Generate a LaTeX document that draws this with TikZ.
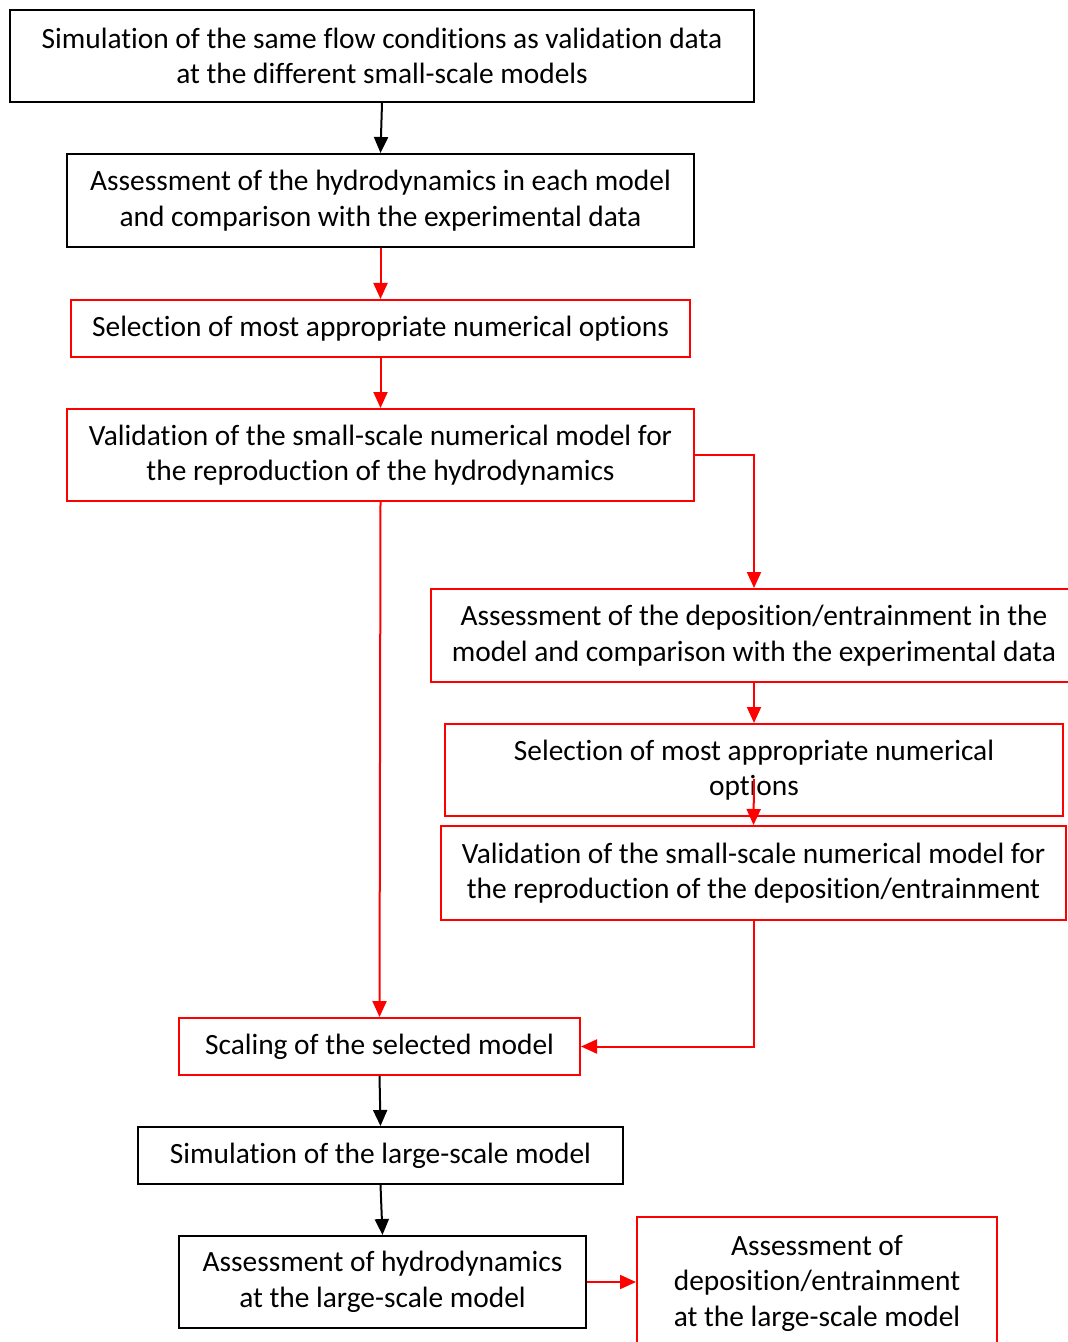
\documentclass[tikz,border=0pt]{standalone}
\usepackage{fontspec}
\setmainfont{Carlito}[Ligatures=NoCommon]
\usetikzlibrary{arrows.meta}
\begin{document}
\begin{tikzpicture}[x=0.5pt,y=-0.5pt,
 box/.style={draw, line width=1pt, inner sep=0pt, align=center, font=\fontsize{14.7}{17.75}\selectfont, anchor=center},
 bb/.style={box, draw=black},
 rb/.style={box, draw=red},
 arr/.style={line width=1pt, -{Triangle[length=8pt,width=7pt]}},
 barr/.style={arr, color=black},
 rarr/.style={arr, color=red}]
\useasboundingbox (0,0) rectangle (1068,1342);
\node[bb, minimum width=372pt, minimum height=46pt] (b1) at (382,56) {Simulation of the same flow conditions as validation data\\at the different small-scale models};
\node[bb, minimum width=313.5pt, minimum height=46.5pt] (b2) at (380.5,200.5) {Assessment of the hydrodynamics in each model\\and comparison with the experimental data};
\node[rb, minimum width=309.5pt, minimum height=28.5pt] (b3) at (380.5,328.5) {Selection of most appropriate numerical options};
\node[rb, minimum width=313.5pt, minimum height=46pt] (b4) at (380.5,455) {Validation of the small-scale numerical model for\\the reproduction of the hydrodynamics};
\node[rb, minimum width=323pt, minimum height=46.5pt] (b5) at (754,635.5) {Assessment of the deposition/entrainment in the\\model and comparison with the experimental data};
\node[rb, minimum width=309pt, minimum height=46pt] (b6) at (754,770) {Selection of most appropriate numerical\\options};
\node[rb, minimum width=312.5pt, minimum height=47pt] (b7) at (753.5,873) {Validation of the small-scale numerical model for\\the reproduction of the deposition/entrainment};
\node[rb, minimum width=200.5pt, minimum height=28.5pt] (b8) at (379.5,1046.5) {Scaling of the selected model};
\node[bb, minimum width=242.5pt, minimum height=28.5pt] (b9) at (380.5,1155.5) {Simulation of the large-scale model};
\node[bb, minimum width=203.5pt, minimum height=46pt] (b10) at (382.5,1282) {Assessment of hydrodynamics\\at the large-scale model};
\node[rb, minimum width=180pt, minimum height=66pt] (b11) at (817,1283) {Assessment of\\deposition/entrainment\\at the large-scale model};
\coordinate (c67) at (754,779);
\draw[barr] (b1.south) -- (b2.north);
\draw[rarr] (b2.south) -- (b3.north);
\draw[rarr] (b3.south) -- (b4.north);
\draw[rarr] (b4.east) -| (b5.north);
\draw[rarr] (b4.south) -- (b8.north);
\draw[rarr] (b5.south) -- (b6.north);
\draw[rarr] (c67) -- (b7.north);
\draw[rarr] (b7.south) |- (b8.east);
\draw[barr] (b8.south) -- (b9.north);
\draw[barr] (b9.south) -- (b10.north);
\draw[rarr] (b10.east) -- (b10.east -| b11.west);
\end{tikzpicture}
\end{document}
